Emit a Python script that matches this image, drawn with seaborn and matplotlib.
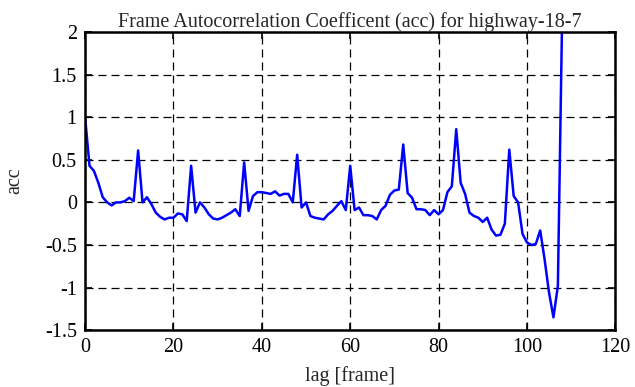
import numpy as np
import pandas as pd
import matplotlib
matplotlib.use('Agg')
import matplotlib.pyplot as plt
import seaborn as sns

# valores (lag 0..108)
lag = list(range(0, 109))
acc = [1.0, 0.43, 0.37, 0.23, 0.06, 0.0, -0.035, 0.0, 0.0, 0.015,
       0.055, 0.015, 0.61, 0.0, 0.06, -0.02, -0.12, -0.17, -0.2, -0.18,
       -0.18, -0.13, -0.14, -0.22, 0.43, -0.12, 0.0, -0.06, -0.14, -0.19,
       -0.2, -0.18, -0.15, -0.12, -0.08, -0.16, 0.47, -0.1, 0.075, 0.12,
       0.12, 0.11, 0.1, 0.13, 0.08, 0.1, 0.1, 0.0, 0.56, -0.06,
       0.0, -0.16, -0.18, -0.19, -0.2, -0.14, -0.1, -0.04, 0.015, -0.09,
       0.43, -0.09, -0.06, -0.15, -0.15, -0.16, -0.2, -0.09, -0.04, 0.09,
       0.14, 0.15, 0.68, 0.11, 0.055, -0.08, -0.08, -0.09, -0.15, -0.09,
       -0.14, -0.09, 0.12, 0.19, 0.86, 0.23, 0.1, -0.12, -0.16, -0.18,
       -0.23, -0.18, -0.32, -0.39, -0.38, -0.25, 0.62, 0.075, 0.0, -0.37,
       -0.47, -0.5, -0.49, -0.33, -0.67, -1.06, -1.35, -0.98, 2.3]

df = pd.DataFrame({'lag': lag, 'acc': acc})

sns.set_style('ticks')
plt.rcParams['font.family'] = ['Liberation Serif', 'DejaVu Serif']

fig = plt.figure(figsize=(6.35, 3.87), dpi=100)
ax = fig.add_axes([0.134, 0.147, 0.835, 0.77])
sns.lineplot(data=df, x='lag', y='acc', color='#0000ff', linewidth=1.8, ax=ax)

ax.set_xlim(0, 120)
ax.set_ylim(-1.5, 2)
ax.set_xticks([0, 20, 40, 60, 80, 100, 120])
ax.set_yticks([-1.5, -1, -0.5, 0, 0.5, 1, 1.5, 2])
ax.set_yticklabels(['-1.5', '-1', '-0.5', '0', '0.5', '1', '1.5', '2'])
ax.grid(True, color='black', linestyle=(0, (6.4, 4)), linewidth=0.9)
ax.tick_params(direction='in', top=True, right=True, length=5, width=1.2,
               labelsize=14.5, colors='black', pad=6)
for s in ax.spines.values():
    s.set_linewidth(1.8)
    s.set_color('black')
ax.set_xlabel('lag [frame]', fontsize=14.5, labelpad=6)
ax.set_ylabel('acc', fontsize=14.5, labelpad=15)
ax.set_title('Frame Autocorrelation Coefficent (acc) for highway-18-7', fontsize=14.5, pad=4)

plt.savefig('out.png', dpi=100)
